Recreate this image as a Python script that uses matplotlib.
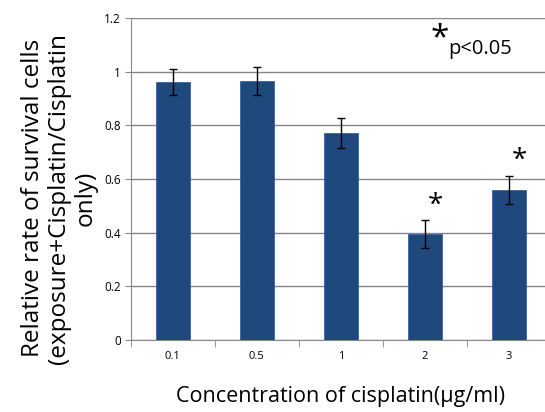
import numpy as np
import matplotlib.pyplot as plt

# datos
concentraciones = ["0.1", "0.5", "1", "2", "3"]
supervivencia = [0.962, 0.965, 0.770, 0.395, 0.559]
error = [0.049, 0.052, 0.056, 0.052, 0.053]
significativo = [False, False, False, True, True]

plt.rcParams["font.family"] = ["Open Sans", "DejaVu Sans"]

fig = plt.figure(figsize=(5.45, 4.12), dpi=100)
ax = fig.add_axes([0.240, 0.175, 0.771, 0.781])

x = np.arange(len(concentraciones))
ax.bar(x, supervivencia, width=0.4, color="#1F497D", edgecolor="#3a64a0",
       linewidth=0.6, zorder=3)
ax.errorbar(x, supervivencia, yerr=error, fmt="none", ecolor="black",
            elinewidth=1, capsize=3, capthick=1, zorder=4)

for i in range(len(x)):
    if significativo[i]:
        ax.text(x[i] + 0.13, supervivencia[i] + error[i] + 0.055, "*",
                fontsize=20, ha="center", va="center")

ax.text(0.735, 0.935, "*", transform=ax.transAxes, fontsize=24,
        ha="center", va="center")
ax.text(0.755, 0.905, "p<0.05", transform=ax.transAxes, fontsize=14.5,
        ha="left", va="center")

ax.set_xlim(-0.5, 4.5)
ax.set_ylim(0, 1.2)
ax.set_yticks(np.arange(0, 1.21, 0.2))
ax.set_yticklabels(["0", "0.2", "0.4", "0.6", "0.8", "1", "1.2"])
ax.set_xticks(x)
ax.set_xticklabels(concentraciones)
ax.set_xticks(np.arange(-0.5, 5, 1), minor=True)
ax.tick_params(axis="x", which="major", length=0, labelsize=8, pad=8)
ax.tick_params(axis="x", which="minor", length=5, color="#888888",
               direction="out")
ax.tick_params(axis="y", length=4, color="#888888", labelsize=8.5, pad=3)

ax.grid(axis="y", color="#868686", linewidth=1, zorder=0)
ax.spines["top"].set_visible(False)
ax.spines["right"].set_visible(False)
ax.spines["left"].set_color("#888888")
ax.spines["bottom"].set_color("#888888")

ax.set_ylabel("Relative rate of survival cells\n(exposure+Cisplatin/Cisplatin\nonly)",
              fontsize=17.5, linespacing=1.12)
ax.yaxis.set_label_coords(-0.08, 0.44)
ax.set_xlabel("Concentration of cisplatin(μg/ml)", fontsize=15.5, labelpad=17)

fig.savefig("out.png", dpi=100)
